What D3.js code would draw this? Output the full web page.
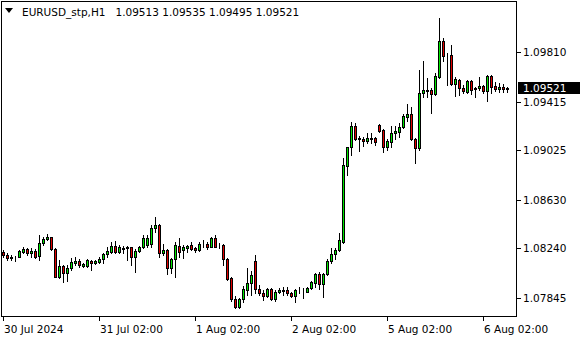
<!DOCTYPE html>
<html lang="en">
<head>
  <meta charset="UTF-8">
  <title>EURUSD_stp,H1</title>
  <script src="https://d3js.org/d3.v7.min.js"></script>
  <style>
    body { margin: 0; background: #fff; }
    text { font-family: "DejaVu Sans", sans-serif; font-size: 10.5px; fill: #000; white-space: pre; }
  </style>
</head>
<body>
  <svg id="chart" width="580" height="340"></svg>
  <script>
    // H1 bars, 30 Jul 2024 .. 6 Aug 2024
    const opens = [
      1.08213, 1.08186, 1.08170, 1.08170, 1.08173, 1.08213, 1.08232, 1.08200, 1.08221, 1.08178,
      1.08280, 1.08315, 1.08328, 1.08232, 1.08008, 1.08098, 1.08040, 1.08080, 1.08125, 1.08138,
      1.08101, 1.08098, 1.08138, 1.08120, 1.08133, 1.08152, 1.08192, 1.08213, 1.08258, 1.08208,
      1.08237, 1.08245, 1.08248, 1.08168, 1.08221, 1.08248, 1.08267, 1.08272, 1.08400, 1.08427,
      1.08205, 1.08227, 1.08085, 1.08157, 1.08258, 1.08227, 1.08245, 1.08267, 1.08240, 1.08227,
      1.08272, 1.08275, 1.08253, 1.08320, 1.08264, 1.08267, 1.08152, 1.08000, 1.07832, 1.07768,
      1.07832, 1.07906, 1.07960, 1.08138, 1.07912, 1.07880, 1.07858, 1.07912, 1.07832, 1.07890,
      1.07898, 1.07906, 1.07880, 1.07858, 1.07904, 1.07904, 1.07892, 1.07925, 1.07965, 1.08032,
      1.07952, 1.08032, 1.08138, 1.08192, 1.08227, 1.08293, 1.08902, 1.09049, 1.09220, 1.09121,
      1.09113, 1.09102, 1.09118, 1.09126, 1.09228, 1.09188, 1.09054, 1.09094, 1.09161, 1.09174,
      1.09209, 1.09294, 1.09316, 1.09113, 1.09041, 1.09482, 1.09508, 1.09508, 1.09476, 1.09615,
      1.09901, 1.09791, 1.09788, 1.09556, 1.09588, 1.09522, 1.09495, 1.09580, 1.09522, 1.09522,
      1.09540, 1.09500, 1.09620, 1.09540, 1.09514, 1.09535, 1.09513
    ];
    const highs = [
      1.08227, 1.08200, 1.08186, 1.08178, 1.08227, 1.08248, 1.08245, 1.08240, 1.08232, 1.08347,
      1.08333, 1.08355, 1.08333, 1.08240, 1.08146, 1.08106, 1.08106, 1.08160, 1.08168, 1.08152,
      1.08120, 1.08152, 1.08146, 1.08146, 1.08168, 1.08205, 1.08253, 1.08293, 1.08301, 1.08267,
      1.08256, 1.08256, 1.08253, 1.08232, 1.08258, 1.08347, 1.08347, 1.08427, 1.08488, 1.08435,
      1.08275, 1.08232, 1.08160, 1.08293, 1.08320, 1.08267, 1.08267, 1.08293, 1.08253, 1.08293,
      1.08307, 1.08293, 1.08333, 1.08347, 1.08285, 1.08275, 1.08160, 1.08008, 1.07858, 1.07840,
      1.07938, 1.08080, 1.08061, 1.08186, 1.07946, 1.07906, 1.07920, 1.07920, 1.07906, 1.07920,
      1.07928, 1.07928, 1.07892, 1.07912, 1.07928, 1.07920, 1.07928, 1.07981, 1.08045, 1.08053,
      1.08045, 1.08152, 1.08240, 1.08245, 1.08365, 1.08961, 1.09054, 1.09254, 1.09246, 1.09140,
      1.09134, 1.09161, 1.09161, 1.09134, 1.09233, 1.09193, 1.09113, 1.09220, 1.09220, 1.09246,
      1.09316, 1.09396, 1.09374, 1.09121, 1.09668, 1.09743, 1.09602, 1.09522, 1.09647, 1.10082,
      1.09927, 1.09802, 1.09869, 1.09615, 1.09594, 1.09548, 1.09588, 1.09588, 1.09530, 1.09610,
      1.09548, 1.09628, 1.09626, 1.09575, 1.09562, 1.09556, 1.09535
    ];
    const lows = [
      1.08173, 1.08146, 1.08146, 1.08138, 1.08168, 1.08205, 1.08186, 1.08173, 1.08160, 1.08146,
      1.08267, 1.08307, 1.08227, 1.08008, 1.08000, 1.07973, 1.07981, 1.08066, 1.08106, 1.08093,
      1.08093, 1.08088, 1.08066, 1.08114, 1.08120, 1.08120, 1.08173, 1.08200, 1.08200, 1.08200,
      1.08202, 1.08144, 1.08106, 1.08053, 1.08208, 1.08240, 1.08253, 1.08253, 1.08373, 1.08173,
      1.08186, 1.08034, 1.08040, 1.08008, 1.08173, 1.08160, 1.08213, 1.08227, 1.08213, 1.08221,
      1.08253, 1.08232, 1.08248, 1.08248, 1.08245, 1.08106, 1.07986, 1.07820, 1.07764, 1.07764,
      1.07812, 1.07866, 1.07866, 1.07880, 1.07866, 1.07826, 1.07852, 1.07826, 1.07820, 1.07880,
      1.07866, 1.07866, 1.07852, 1.07812, 1.07880, 1.07840, 1.07888, 1.07912, 1.07933, 1.07912,
      1.07852, 1.08026, 1.08120, 1.08152, 1.08218, 1.08280, 1.08827, 1.08987, 1.09108, 1.09022,
      1.09060, 1.09081, 1.09086, 1.09068, 1.09174, 1.09009, 1.09028, 1.09054, 1.09113, 1.09134,
      1.09201, 1.09262, 1.09108, 1.08921, 1.09028, 1.09454, 1.09454, 1.09322, 1.09468, 1.09602,
      1.09743, 1.09548, 1.09548, 1.09460, 1.09468, 1.09482, 1.09487, 1.09476, 1.09450, 1.09508,
      1.09482, 1.09422, 1.09487, 1.09503, 1.09495, 1.09492, 1.09495
    ];
    const closes = [
      1.08186, 1.08160, 1.08165, 1.08174, 1.08218, 1.08234, 1.08200, 1.08221, 1.08173, 1.08285,
      1.08312, 1.08333, 1.08235, 1.08013, 1.08098, 1.08040, 1.08080, 1.08130, 1.08141, 1.08104,
      1.08112, 1.08144, 1.08125, 1.08138, 1.08154, 1.08194, 1.08221, 1.08258, 1.08208, 1.08248,
      1.08245, 1.08248, 1.08173, 1.08221, 1.08248, 1.08320, 1.08320, 1.08400, 1.08427, 1.08205,
      1.08227, 1.08085, 1.08152, 1.08267, 1.08208, 1.08248, 1.08256, 1.08232, 1.08229, 1.08272,
      1.08277, 1.08253, 1.08320, 1.08253, 1.08269, 1.08152, 1.07994, 1.07832, 1.07768, 1.07832,
      1.07912, 1.07965, 1.08026, 1.07912, 1.07880, 1.07858, 1.07912, 1.07832, 1.07892, 1.07906,
      1.07904, 1.07880, 1.07858, 1.07906, 1.07909, 1.07909, 1.07920, 1.07968, 1.08032, 1.07952,
      1.08032, 1.08138, 1.08192, 1.08227, 1.08307, 1.08907, 1.09049, 1.09220, 1.09116, 1.09113,
      1.09102, 1.09124, 1.09121, 1.09094, 1.09182, 1.09054, 1.09100, 1.09161, 1.09180, 1.09214,
      1.09302, 1.09316, 1.09113, 1.09041, 1.09482, 1.09508, 1.09498, 1.09476, 1.09620, 1.09901,
      1.09783, 1.09786, 1.09556, 1.09596, 1.09522, 1.09503, 1.09580, 1.09508, 1.09514, 1.09540,
      1.09500, 1.09620, 1.09535, 1.09514, 1.09530, 1.09514, 1.09521
    ];

    const priceTicks = [1.09810, 1.09415, 1.09025, 1.08630, 1.08240, 1.07845];
    const timeTickBars = [0, 24, 48, 72, 96, 120];
    const timeTickLabels = ['30 Jul 2024', '31 Jul 02:00', '1 Aug 02:00', '2 Aug 02:00', '5 Aug 02:00', '6 Aug 02:00'];
    const symbol = 'EURUSD_stp,H1';

    const svg = d3.select('#chart');

    // plot frame (MT4 style)
    const frameLeft = 1, frameTop = 1, frameRight = 516, frameBottom = 316;

    const x = d3.scaleLinear().domain([0, opens.length - 1]).range([3, 3 + 4 * (opens.length - 1)]);
    // 1.09810 -> 52.3px, 1.07845 -> 297.7px
    const y = d3.scaleLinear().domain([1.07845, 1.09810]).range([297.7, 52.3]);

    const bars = opens.map((o, i) => ({ i, o, h: highs[i], l: lows[i], c: closes[i] }));

    svg.append('rect')
      .attr('x', frameLeft + 0.5).attr('y', frameTop + 0.5)
      .attr('width', frameRight - frameLeft).attr('height', frameBottom - frameTop)
      .attr('fill', '#fff').attr('stroke', '#000');

    const g = svg.append('g');

    // wicks
    g.selectAll('line.wick')
      .data(bars)
      .join('line')
      .attr('class', 'wick')
      .attr('x1', d => x(d.i) + 0.5).attr('x2', d => x(d.i) + 0.5)
      .attr('y1', d => Math.round(y(d.h))).attr('y2', d => Math.round(y(d.l)) + 1)
      .attr('stroke', '#000');

    // bodies
    g.selectAll('rect.body')
      .data(bars)
      .join('rect')
      .attr('class', 'body')
      .attr('x', d => x(d.i) - 0.5)
      .attr('y', d => Math.round(y(Math.max(d.o, d.c))) + 0.5)
      .attr('width', 2)
      .attr('height', d => Math.max(0, Math.round(y(Math.min(d.o, d.c))) - Math.round(y(Math.max(d.o, d.c)))))
      .attr('fill', d => d.c >= d.o ? '#00e600' : '#e00000')
      .attr('stroke', '#000')
      .attr('shape-rendering', 'crispEdges');

    // price axis
    const yAxis = svg.append('g');
    yAxis.selectAll('line')
      .data(priceTicks)
      .join('line')
      .attr('x1', frameRight + 1).attr('x2', frameRight + 5)
      .attr('y1', d => Math.round(y(d)) + 0.5).attr('y2', d => Math.round(y(d)) + 0.5)
      .attr('stroke', '#000');
    yAxis.selectAll('text')
      .data(priceTicks)
      .join('text')
      .attr('x', 523)
      .attr('y', d => Math.round(y(d)) + 4)
      .text(d => d.toFixed(5));

    // current price label
    const last = closes[closes.length - 1];
    svg.append('rect')
      .attr('x', 518).attr('y', Math.round(y(last)) - 6)
      .attr('width', 62).attr('height', 12)
      .attr('fill', '#000');
    svg.append('text')
      .attr('x', 523).attr('y', Math.round(y(last)) + 4)
      .style('fill', '#fff')
      .text(last.toFixed(5));

    // time axis
    const xAxis = svg.append('g');
    xAxis.selectAll('line')
      .data(timeTickBars)
      .join('line')
      .attr('x1', d => x(d) + 0.5).attr('x2', d => x(d) + 0.5)
      .attr('y1', frameBottom + 1).attr('y2', frameBottom + 5)
      .attr('stroke', '#000');
    xAxis.selectAll('text')
      .data(timeTickBars)
      .join('text')
      .attr('x', d => x(d) + 1)
      .attr('y', 333)
      .text((d, k) => timeTickLabels[k]);

    // header
    svg.append('path')
      .attr('d', 'M5,8 L13,8 L9,13 Z')
      .attr('fill', '#000');
    const lastBar = bars[bars.length - 1];
    svg.append('text')
      .attr('x', 22).attr('y', 16)
      .text(symbol + '   ' + [lastBar.o, lastBar.h, lastBar.l, lastBar.c].map(v => v.toFixed(5)).join(' '));
  </script>
</body>
</html>
